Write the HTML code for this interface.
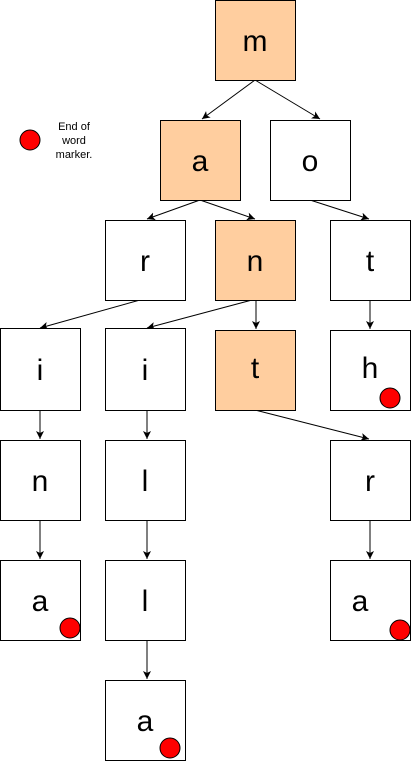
<!DOCTYPE html>
<html><head><style>body{margin:0;background:#fff}svg{display:block}</style></head><body>
<svg width="411" height="761" viewBox="0 0 411 761" xmlns="http://www.w3.org/2000/svg" font-family="Liberation Sans, sans-serif">
<defs><marker id="ar" markerWidth="10" markerHeight="10" refX="8" refY="4" orient="auto" markerUnits="userSpaceOnUse"><path d="M0,0 L8,4 L0,8 L2,4 z" fill="#000"/></marker></defs>
<g stroke="#000" stroke-width="1" fill="none" marker-end="url(#ar)">
<line x1="255" y1="80" x2="202" y2="119"/>
<line x1="255" y1="80" x2="320" y2="119"/>
<line x1="200" y1="200" x2="147" y2="219"/>
<line x1="200" y1="200" x2="255" y2="219"/>
<line x1="310" y1="200" x2="369" y2="219"/>
<line x1="140" y1="300" x2="40" y2="328"/>
<line x1="252" y1="300" x2="147" y2="328"/>
<line x1="256" y1="300" x2="256" y2="329"/>
<line x1="370" y1="300" x2="370" y2="329"/>
<line x1="255" y1="410" x2="369" y2="439"/>
<line x1="40" y1="410" x2="40" y2="439"/>
<line x1="147" y1="410" x2="147" y2="439"/>
<line x1="40" y1="520" x2="40" y2="559"/>
<line x1="147" y1="520" x2="147" y2="559"/>
<line x1="370" y1="520" x2="370" y2="559"/>
<line x1="147" y1="640" x2="147" y2="679"/>
</g>
<g stroke="#000" stroke-width="1">
<rect x="215.5" y="0.5" width="80" height="80" fill="#FFCE9F"/>
<rect x="160.5" y="120.5" width="80" height="80" fill="#FFCE9F"/>
<rect x="270.5" y="120.5" width="80" height="80" fill="#fff"/>
<rect x="105.5" y="220.5" width="80" height="80" fill="#fff"/>
<rect x="215.5" y="220.5" width="80" height="80" fill="#FFCE9F"/>
<rect x="330.5" y="220.5" width="80" height="80" fill="#fff"/>
<rect x="0.5" y="328.5" width="80" height="82" fill="#fff"/>
<rect x="105.5" y="328.5" width="80" height="82" fill="#fff"/>
<rect x="215.5" y="330.5" width="80" height="80" fill="#FFCE9F"/>
<rect x="330.5" y="330.5" width="80" height="80" fill="#fff"/>
<rect x="0.5" y="440.5" width="80" height="80" fill="#fff"/>
<rect x="105.5" y="440.5" width="80" height="80" fill="#fff"/>
<rect x="330.5" y="440.5" width="80" height="80" fill="#fff"/>
<rect x="0.5" y="560.5" width="80" height="80" fill="#fff"/>
<rect x="105.5" y="560.5" width="80" height="80" fill="#fff"/>
<rect x="330.5" y="560.5" width="80" height="80" fill="#fff"/>
<rect x="105.5" y="680.5" width="80" height="80" fill="#fff"/>
<g fill="#FF0000">
<circle cx="30" cy="140" r="10"/>
<circle cx="390" cy="398" r="10"/>
<circle cx="70" cy="628" r="10"/>
<circle cx="400" cy="630" r="10"/>
<circle cx="170" cy="748" r="10"/>
</g>
</g>
<g font-size="30" text-anchor="middle" fill="#000">
<text x="255" y="51">m</text>
<text x="200" y="171">a</text>
<text x="310" y="171">o</text>
<text x="145" y="271">r</text>
<text x="255" y="271">n</text>
<text x="370" y="271">t</text>
<text x="40" y="380">i</text>
<text x="145" y="380">i</text>
<text x="255" y="378">t</text>
<text x="370" y="378">h</text>
<text x="40" y="491">n</text>
<text x="145" y="491">l</text>
<text x="370" y="491">r</text>
<text x="40" y="611">a</text>
<text x="145" y="611">l</text>
<text x="360" y="611">a</text>
<text x="145" y="731">a</text>
</g>
<g font-size="11" text-anchor="middle" fill="#000">
<text x="74" y="130">End of</text>
<text x="74" y="144">word</text>
<text x="74" y="158">marker.</text>
</g>
</svg>
</body></html>
